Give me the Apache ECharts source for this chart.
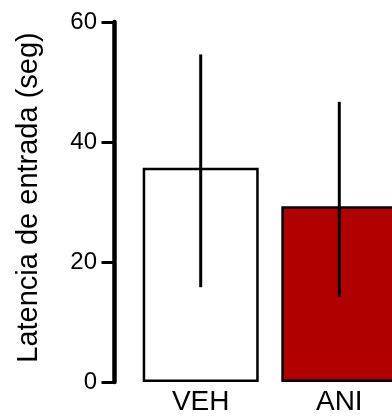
<!DOCTYPE html>
<html>
<head>
<meta charset="utf-8">
<script src="https://cdn.jsdelivr.net/npm/echarts@6/dist/echarts.min.js"></script>
<style>
html,body{margin:0;padding:0;background:#fff;}
#c{width:392px;height:420px;}
</style>
</head>
<body>
<div id="c"></div>
<script>
var categories = ['VEH', 'ANI'];
var means = [35.7, 29.3];
var errLow = [15.8, 14.2];
var errHigh = [54.6, 46.7];
var barColors = ['#ffffff', '#b00000'];
var yTicks = [0, 20, 40, 60];

var chart = echarts.init(document.getElementById('c'), null, {renderer: 'canvas'});
var FONT = 'Liberation Sans, Arial, sans-serif';
chart.setOption({
  animation: false,
  backgroundColor: '#ffffff',
  grid: {left: 131.4, top: 22, width: 277.2, height: 360, containLabel: false, outerBoundsMode: 'none'},
  xAxis: {
    type: 'category',
    data: categories,
    axisLine: {show: false},
    axisTick: {show: false},
    axisLabel: {color: '#000', fontFamily: FONT, fontSize: 28, margin: 6}
  },
  yAxis: {
    type: 'value',
    min: yTicks[0],
    max: yTicks[yTicks.length - 1],
    interval: 20,
    offset: 17.4,
    name: 'Latencia de entrada (seg)',
    nameLocation: 'middle',
    nameGap: 71,
    nameTextStyle: {color: '#000', fontFamily: FONT, fontSize: 29, padding: [0, 0, 0, 9]},
    splitLine: {show: false},
    axisLine: {show: true, lineStyle: {color: '#000', width: 4.5}},
    axisTick: {show: true, length: 12.5, lineStyle: {color: '#000', width: 3}},
    axisLabel: {color: '#000', fontFamily: FONT, fontSize: 24, margin: 17}
  },
  series: [
    {
      type: 'bar',
      barWidth: 116,
      data: means.map(function (v, i) {
        return {value: v, itemStyle: {color: barColors[i], borderColor: '#000', borderWidth: 2.5}};
      }),
      z: 2
    },
    {
      type: 'custom',
      z: 3,
      data: categories.map(function (c, i) { return [i, errLow[i], errHigh[i]]; }),
      renderItem: function (params, api) {
        var lo = api.coord([api.value(0), api.value(1)]);
        var hi = api.coord([api.value(0), api.value(2)]);
        return {
          type: 'line',
          shape: {x1: lo[0], y1: lo[1], x2: hi[0], y2: hi[1]},
          style: {stroke: '#000', lineWidth: 3}
        };
      }
    }
  ]
});
</script>
</body>
</html>
